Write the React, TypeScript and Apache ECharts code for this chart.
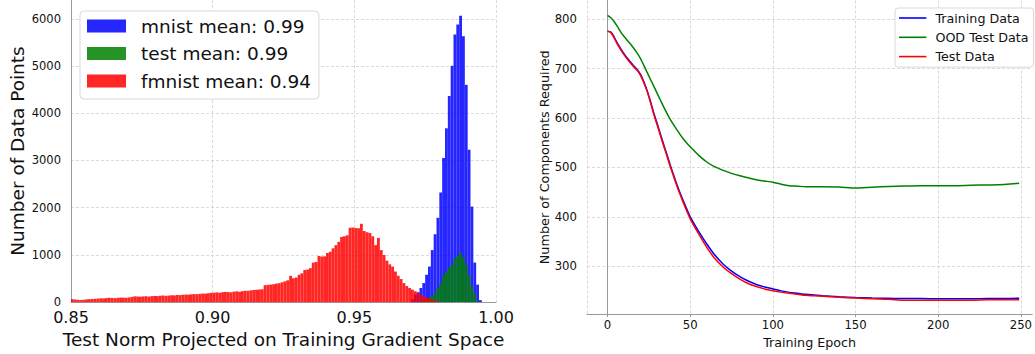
import React, { useEffect, useRef } from "react";
import * as echarts from "echarts";

// ---------- Left chart: histograms ----------
const BIN_WIDTH = 0.001;
const mnistStart = 0.970;
const mnistCounts = [
  60, 160, 209, 300, 404, 579, 753, 1102, 1437, 1785, 2322, 3054, 3682, 4366, 5006,
  5670, 5879, 6067, 5634, 4602, 3228, 2023, 837, 370, 42,
];
const testStart = 0.973;
const testCounts = [
  15, 42, 65, 90, 130, 195, 300, 404, 579, 648, 740, 788, 927, 977, 1046, 948, 788,
  579, 335, 182, 21,
];
const fmnistStart = 0.850;
const fmnistCounts = [
  62, 55, 48, 45, 50, 58, 62, 66, 70, 74,
  80, 78, 85, 92, 88, 84, 90, 96, 94, 92,
  98, 110, 122, 118, 115, 120, 124, 118, 126, 130,
  128, 135, 140, 132, 138, 145, 142, 150, 148, 155,
  160, 158, 165, 170, 168, 175, 182, 180, 188, 195,
  200, 205, 198, 210, 215, 212, 208, 222, 228, 218,
  232, 240, 238, 250, 256, 262, 268, 272, 360, 364,
  372, 380, 392, 400, 420, 440, 462, 555, 505, 520,
  580, 610, 680, 690, 720, 837, 850, 977, 965, 970,
  1040, 1067, 1140, 1207, 1276, 1381, 1395, 1416, 1575, 1580,
  1569, 1565, 1659, 1506, 1480, 1464, 1395, 1207, 1360, 1102,
  998, 879, 800, 753, 648, 558, 488, 404, 340, 300,
  265, 230, 195, 160, 125, 95, 70, 48, 30, 15,
];
const histNames = ["mnist mean: 0.99", "test mean: 0.99", "fmnist mean: 0.94"];
const histXTicks = [0.85, 0.9, 0.95, 1.0];
const histYTicks = [0, 1000, 2000, 3000, 4000, 5000, 6000];

// ---------- Right chart: lines ----------
const epochs = [
  0, 2, 4, 6, 8, 10, 12, 15, 18, 20, 22, 24, 26, 28, 30, 32, 34, 36, 38, 40, 42, 44, 46,
  48, 50, 55, 60, 65, 70, 75, 80, 85, 90, 95, 100, 105, 110, 115, 120, 125, 130, 140,
  150, 160, 170, 180, 190, 200, 210, 220, 230, 240, 249,
];
const trainingData = [
  776, 774, 764, 751, 740, 730, 721, 709, 698, 688, 673, 655, 633, 610, 589, 567, 546,
  525, 504, 484, 465, 447, 431, 415, 400, 371, 345, 322, 304, 290, 279, 270, 263, 258,
  254, 250, 247, 245, 243, 241.5, 240, 238, 236.5, 235.5, 235, 234.5, 234.5, 234, 234,
  234, 234.5, 234.5, 235,
];
const oodTestData = [
  808, 803, 795, 785, 774, 765, 757, 745, 731, 720, 706, 692, 678, 664, 650, 636, 622,
  609, 597, 586, 576, 566, 557, 549, 542, 525, 511, 501, 494, 488, 483, 479, 475, 472.5,
  470, 466, 463, 462, 461, 461, 461, 460.5, 458.5, 460, 461.5, 462.5, 463, 463, 463,
  464, 464.5, 465.5, 468,
];
const testData = [
  775, 773, 762, 749, 738, 728, 719, 707, 696, 686, 671, 653, 631, 607, 586, 564, 543,
  522, 501, 481, 462, 444, 427, 411, 396, 366, 338, 315, 298, 285, 274, 265, 259, 254,
  250.5, 247.5, 245, 243, 241, 240, 239, 237, 235.5, 234, 233, 231, 231, 231, 231, 231,
  232, 232, 232,
];
const lineNames = ["Training Data", "OOD Test Data", "Test Data"];

const FONT = "DejaVu Sans";

function histSeries(name: string, start: number, counts: number[], color: string) {
  return {
    type: "custom",
    name,
    xAxisIndex: 0,
    yAxisIndex: 0,
    itemStyle: { color },
    encode: { x: 0, y: 1 },
    data: counts.map((c, i) => [start + i * BIN_WIDTH, c]),
    renderItem: (_params: any, api: any) => {
      const x0 = api.value(0);
      const c = api.value(1);
      const a = api.coord([x0, c]);
      const b = api.coord([x0 + BIN_WIDTH, 0]);
      return {
        type: "rect",
        shape: { x: a[0], y: a[1], width: b[0] - a[0], height: b[1] - a[1] },
        style: { fill: color },
      };
    },
  };
}

function lineSeries(name: string, values: number[], color: string) {
  return {
    type: "line",
    name,
    xAxisIndex: 1,
    yAxisIndex: 1,
    data: epochs.map((e, i) => [e, values[i]]),
    symbol: "none",
    showSymbol: false,
    smooth: 0.3,
    lineStyle: { color, width: 1.5 },
    itemStyle: { color },
  };
}

const gridLine = { show: true, lineStyle: { color: "#d0d0d0", type: [3, 2], width: 0.8 } };

export default function App() {
  const ref = useRef<HTMLDivElement>(null);
  useEffect(() => {
    document.body.style.margin = "0";
    const chart = echarts.init(ref.current!, undefined, { renderer: "svg" });
    const option: any = {
      animation: false,
      textStyle: { fontFamily: FONT },
      grid: [
        { left: 71, top: 0, width: 425, height: 306 },
        { left: 587, top: 0.5, width: 448, height: 315.5 },
      ],
      legend: [
        {
          data: histNames,
          orient: "vertical",
          left: 80,
          top: 11,
          icon: "rect",
          itemWidth: 39,
          itemHeight: 13,
          itemGap: 5.5,
          selectedMode: false,
          textStyle: { fontFamily: FONT, fontSize: 18.5, lineHeight: 22, color: "#111", padding: [0, 0, 0, 10] },
          backgroundColor: "#fff",
          borderColor: "#d9d9d9",
          borderWidth: 1,
          borderRadius: 4,
          padding: [4, 8, 7, 7],
        },
        {
          data: lineNames,
          orient: "vertical",
          left: 895,
          top: 8,
          icon: "rect",
          itemWidth: 27.4,
          itemHeight: 1.6,
          itemGap: 5.3,
          selectedMode: false,
          textStyle: { fontFamily: FONT, fontSize: 12.7, lineHeight: 14, color: "#111", padding: [0, 0, 0, 4] },
          backgroundColor: "#fff",
          borderColor: "#d9d9d9",
          borderWidth: 1,
          borderRadius: 3,
          padding: [3, 5, 3.5, 4],
        },
      ],
      xAxis: [
        {
          type: "value",
          gridIndex: 0,
          min: histXTicks[0],
          max: histXTicks[histXTicks.length - 1],
          interval: 0.05,
          axisLine: { show: true, lineStyle: { color: "#999", width: 1 } },
          axisTick: { show: false },
          axisLabel: {
            fontSize: 16,
            lineHeight: 16,
            color: "#111",
            margin: 7,
            formatter: (v: number) => v.toFixed(2),
          },
          splitLine: gridLine,
          name: "Test Norm Projected on Training Gradient Space",
          nameLocation: "middle",
          nameGap: 22,
          nameTextStyle: { fontSize: 18.5, color: "#111", fontFamily: FONT },
        },
        {
          type: "value",
          gridIndex: 1,
          min: -12.45,
          max: 256.9,
          splitNumber: 5,
          axisLine: { show: true, lineStyle: { color: "#999", width: 1 } },
          axisTick: { show: true, length: 3, lineStyle: { color: "#999" } },
          axisLabel: {
            fontSize: 11.7,
            color: "#111",
            margin: 5,
            showMinLabel: false,
            showMaxLabel: false,
            formatter: (v: number) => (Math.abs(v % 50) < 1e-6 ? String(v) : ""),
          },
          splitLine: { ...gridLine, showMaxLine: false },
          name: "Training Epoch",
          nameLocation: "middle",
          nameGap: 19,
          nameTextStyle: { fontSize: 12.7, color: "#111", fontFamily: FONT },
        },
      ],
      yAxis: [
        {
          type: "value",
          gridIndex: 0,
          min: histYTicks[0],
          max: 6400,
          interval: 1000,
          axisLine: { show: true, lineStyle: { color: "#999", width: 1 } },
          axisTick: { show: false },
          axisLabel: {
            fontSize: 11.5,
            lineHeight: 12,
            color: "#111",
            margin: 10,
            formatter: (v: number) => (histYTicks.indexOf(v) >= 0 ? String(v) : ""),
          },
          splitLine: { ...gridLine, showMaxLine: false },
          name: "Number of Data Points",
          nameLocation: "middle",
          nameGap: 44,
          nameTextStyle: { fontSize: 18.5, color: "#111", fontFamily: FONT },
        },
        {
          type: "value",
          gridIndex: 1,
          min: 203,
          max: 838,
          splitNumber: 5,
          axisLine: { show: true, lineStyle: { color: "#999", width: 1 } },
          axisTick: { show: false },
          axisLabel: {
            fontSize: 11.7,
            color: "#111",
            margin: 10,
            formatter: (v: number) => (Math.abs(v % 100) < 1e-6 ? String(v) : ""),
          },
          splitLine: { ...gridLine, showMaxLine: false },
          name: "Number of Components Required",
          nameLocation: "middle",
          nameGap: 34.5,
          nameTextStyle: { fontSize: 12.8, color: "#111", fontFamily: FONT },
        },
      ],
      series: [
        histSeries(histNames[0], mnistStart, mnistCounts, "rgba(0,0,255,0.85)"),
        histSeries(histNames[1], testStart, testCounts, "rgba(0,128,0,0.85)"),
        histSeries(histNames[2], fmnistStart, fmnistCounts, "rgba(255,0,0,0.85)"),
        lineSeries(lineNames[0], trainingData, "#0000ff"),
        lineSeries(lineNames[1], oodTestData, "#008000"),
        lineSeries(lineNames[2], testData, "#ff0000"),
      ],
    };
    chart.setOption(option);
    return () => chart.dispose();
  }, []);
  return <div ref={ref} style={{ width: 1035, height: 354 }} />;
}
